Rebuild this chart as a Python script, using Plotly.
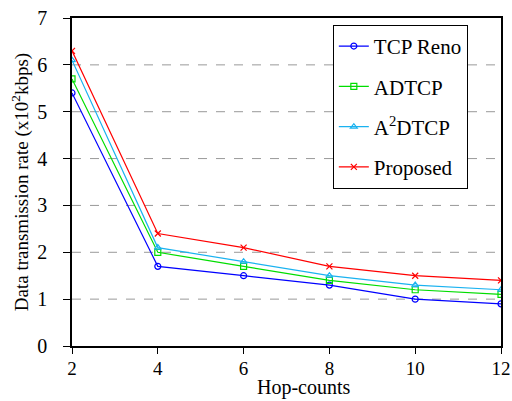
import plotly.graph_objects as go

hops = [2, 4, 6, 8, 10, 12]
tcp_reno = [5.4, 1.7, 1.5, 1.3, 1.0, 0.9]
adtcp = [5.7, 2.0, 1.7, 1.4, 1.2, 1.1]
a2dtcp = [6.1, 2.1, 1.8, 1.5, 1.3, 1.2]
proposed = [6.3, 2.4, 2.1, 1.7, 1.5, 1.4]

series = [
    ("TCP Reno", tcp_reno, "#0000ff", "circle-open"),
    ("ADTCP", adtcp, "#00dd00", "square-open"),
    ("A<sup>2</sup>DTCP", a2dtcp, "#1ab2f0", "triangle-up-open"),
    ("Proposed", proposed, "#ff0000", "x-thin-open"),
]

fig = go.Figure()
for i, (name, vals, col, sym) in enumerate(series):
    fig.add_trace(go.Scatter(
        x=hops, y=vals, name=name, mode="lines+markers",
        line=dict(color=col, width=1.2),
        marker=dict(symbol=sym, size=6, color=col, line=dict(color=col, width=1.2)),
        legendgroup=str(i),
    ))

font_family = "Liberation Serif"
fig.update_layout(
    width=512, height=401,
    margin=dict(l=72, r=11, t=18, b=55, autoexpand=False),
    paper_bgcolor="white", plot_bgcolor="white",
    font=dict(family=font_family, size=19, color="black"),
    showlegend=True,
    legend=dict(
        x=0.608, y=0.979, xanchor="left", yanchor="top",
        bordercolor="black", borderwidth=1, bgcolor="white",
        font=dict(size=21, family=font_family),
        traceorder="grouped", tracegroupgap=10,
        itemwidth=30, entrywidthmode="pixels", entrywidth=104,
    ),
    xaxis=dict(
        range=[2, 12], tickvals=hops, showgrid=False, automargin=False,
        showline=True, linecolor="black", linewidth=1.5, mirror=True,
        ticks="outside", ticklen=6, tickcolor="black", ticklabelstandoff=-2,
        tickfont=dict(size=19, family=font_family), zeroline=False,
    ),
    yaxis=dict(
        range=[0, 7], tickvals=[0, 1, 2, 3, 4, 5, 6, 7],
        showgrid=False, automargin=False,
        showline=True, linecolor="black", linewidth=1.5, mirror=True,
        ticks="outside", ticklen=7, tickcolor="black", ticklabelstandoff=12,
        title=dict(text="Data transmission rate (x10<sup>2</sup>kbps)", font=dict(size=19, family=font_family), standoff=4),
        tickfont=dict(size=20, family=font_family), zeroline=False,
    ),
    annotations=[dict(
        text="Hop-counts", xref="paper", yref="paper", x=0.541, y=-0.1646,
        xanchor="center", yanchor="bottom", showarrow=False, borderpad=0,
        font=dict(size=20, family=font_family, color="black"),
    )],
)

for g in [1, 2, 3, 4, 5, 6]:
    fig.add_shape(type="line", xref="paper", yref="y", x0=0, x1=1, y0=g, y1=g,
                  line=dict(color="#999999", width=1, dash="dash"), layer="below")

fig.write_html("out.html", config={"displayModeBar": False},
               post_script="document.body.style.margin='0';")
